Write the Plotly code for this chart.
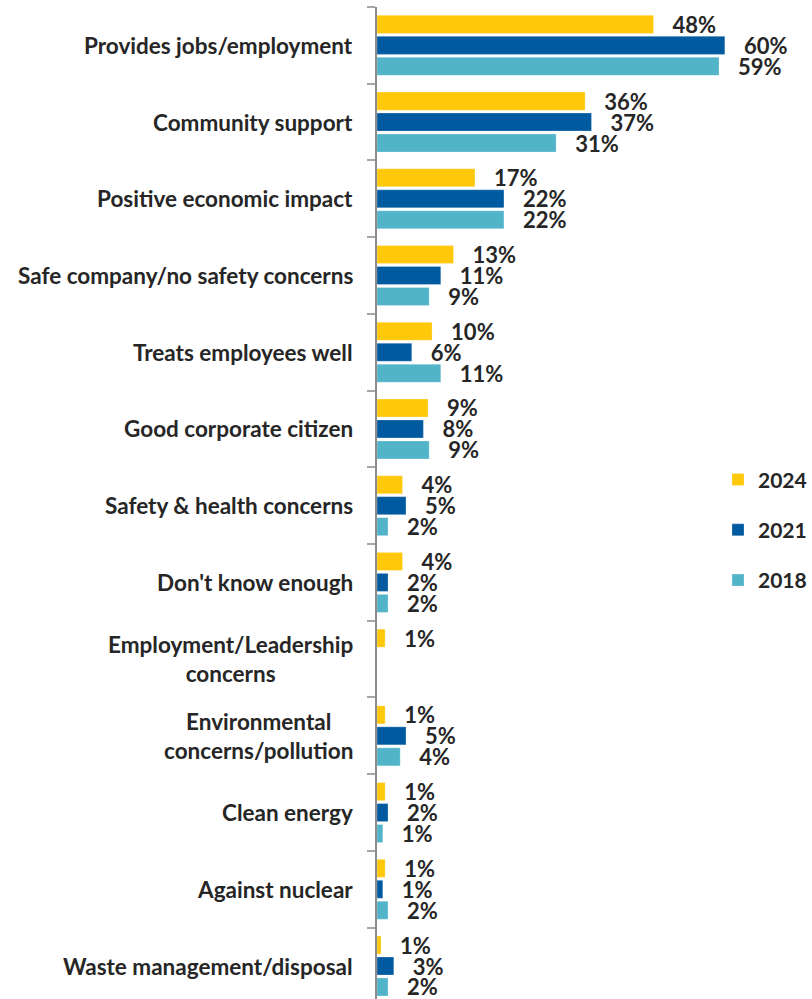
import plotly.graph_objects as go

categories = [
    "Provides jobs/employment",
    "Community support",
    "Positive economic impact",
    "Safe company/no safety concerns",
    "Treats employees well",
    "Good corporate citizen",
    "Safety & health concerns",
    "Don't know enough",
    "Employment/Leadership<br>concerns",
    "Environmental<br>concerns/pollution",
    "Clean energy",
    "Against nuclear",
    "Waste management/disposal",
]

years = ["2024", "2021", "2018"]

# values
values_2024 = [47.7, 35.9, 16.9, 13.2, 9.5, 8.8, 4.4, 4.4, 1.4, 1.4, 1.4, 1.4, 0.7]
values_2021 = [60.0, 37.0, 21.9, 11.0, 6.0, 8.0, 5.0, 1.9, None, 5.0, 1.9, 1.0, 2.9]
values_2018 = [59.0, 30.9, 21.9, 9.0, 11.0, 9.0, 1.9, 1.9, None, 4.0, 1.0, 1.9, 1.9]

# printed data labels
labels_2024 = [48, 36, 17, 13, 10, 9, 4, 4, 1, 1, 1, 1, 1]
labels_2021 = [60, 37, 22, 11, 6, 8, 5, 2, None, 5, 2, 1, 3]
labels_2018 = [59, 31, 22, 9, 11, 9, 2, 2, None, 4, 1, 2, 2]

colors = ["#FFC80B", "#005AA0", "#52B4C9"]
FONT = "Lato"
TEXT_COLOR = "#262626"
PAD = "\u00a0\u00a0\u00a0"

series = [values_2024, values_2021, values_2018]
series_labels = [labels_2024, labels_2021, labels_2018]

fig = go.Figure()
for i, (name, vals, labs) in enumerate(zip(years, series, series_labels)):
    fig.add_trace(go.Bar(
        y=categories,
        x=vals,
        name=name,
        orientation="h",
        marker=dict(color=colors[i], line=dict(color="rgba(255,255,255,0.5)", width=0.5)),
        text=[f"{PAD}{l}%" if l is not None else "" for l in labs],
        textposition="outside",
        constraintext="none",
        textfont=dict(family=FONT, size=22, color=TEXT_COLOR, weight="bold"),
        cliponaxis=False,
        legendgroup=name,
    ))

# category labels as annotations so two-line labels can be centred
for cat in categories:
    fig.add_annotation(
        x=0, xref="paper", xanchor="right", xshift=-22,
        y=cat, yref="y", yanchor="middle",
        text=cat, showarrow=False, align="center",
        font=dict(family=FONT, size=22.5, color=TEXT_COLOR, weight="bold"),
    )

fig.update_layout(
    width=812, height=999,
    margin=dict(l=377, r=0, t=7, b=0),
    paper_bgcolor="white", plot_bgcolor="white",
    barmode="group", bargap=0.18, bargroupgap=0.14,
    showlegend=True,
    legend=dict(
        x=0.795, y=0.544, xanchor="left", yanchor="top",
        font=dict(family=FONT, size=21, color=TEXT_COLOR, weight="bold"),
        traceorder="grouped", tracegroupgap=20,
        bgcolor="rgba(0,0,0,0)",
    ),
)

fig.update_xaxes(range=[0, 74], visible=False, fixedrange=True, automargin=False)
fig.update_yaxes(
    type="category",
    categoryorder="array", categoryarray=categories,
    range=[12.43, -0.5],
    showticklabels=False, automargin=False,
    showline=True, linecolor="#8C8C8C", linewidth=2,
    ticks="outside", tickson="boundaries", ticklen=8, tickcolor="#A6A6A6", tickwidth=2,
    showgrid=False, zeroline=False,
)

# drop the page's default body margin so the figure sits at the window's corner
fig.write_html(
    "out.html",
    config={"displayModeBar": False},
    post_script="document.body.style.margin='0';",
)
